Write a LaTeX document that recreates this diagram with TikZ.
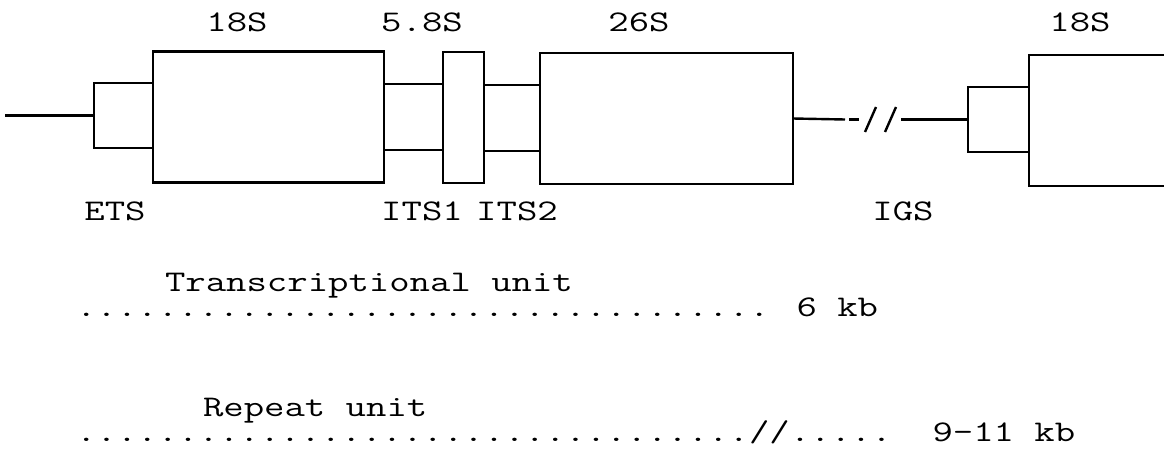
\documentclass[tikz,border=0pt]{standalone}
\usepackage{fontspec}
\newfontfamily\tw[FakeStretch=1.32]{Latin Modern Mono}
\begin{document}
\begin{tikzpicture}[x=1pt,y=-1pt,
  box/.style={draw, line width=2.4pt, minimum width=#1, inner sep=0pt, outer sep=0pt},
  ln/.style={line width=2.4pt},
  lbl/.style={font=\tw\fontsize{30}{30}\selectfont, inner sep=0pt, outer sep=0pt}]
\useasboundingbox (0,0) rectangle (1164,458);
\clip (0,0) rectangle (1164,458);
% boxes
\node[box=59pt, minimum height=65pt] (ets) at (123.5,115.5) {};
\node[box=231pt, minimum height=131pt] (r18) at (268.5,117) {};
\node[box=41pt, minimum height=131pt] (r58) at (463.5,117.5) {};
\node[box=253pt, minimum height=131pt] (r26) at (666.5,118.5) {};
\node[box=61pt, minimum height=65pt] (ets2) at (998.5,119.5) {};
\node[box=200pt, minimum height=131pt] (r18b) at (1129,120.5) {};
% connectors
\coordinate (lstart) at (5,115.5);
\draw[ln] (lstart) -- (ets.west);
\coordinate (its1t) at (0,84);
\coordinate (its1b) at (0,150);
\coordinate (its2t) at (0,85);
\coordinate (its2b) at (0,151);
\draw[ln] (r18.east |- its1t) -- (r58.west |- its1t);
\draw[ln] (r18.east |- its1b) -- (r58.west |- its1b);
\draw[ln] (r58.east |- its2t) -- (r26.west |- its2t);
\draw[ln] (r58.east |- its2b) -- (r26.west |- its2b);
\coordinate (g1) at (845,119.5);
\coordinate (d1) at (849,119.5);
\coordinate (d2) at (859,119.5);
\coordinate (g2) at (901,119.5);
\draw[ln] (r26.east) -- (g1);
\draw[ln] (d1) -- (d2);
\draw[ln] (g2) -- (ets2.west);
\coordinate (s1a) at (865,132);
\coordinate (s1b) at (876,107);
\coordinate (s2a) at (885,132);
\coordinate (s2b) at (896,107);
\draw[ln] (s1a) -- (s1b);
\draw[ln] (s2a) -- (s2b);
% labels
\node[lbl, anchor=base] (l18) at (237,31) {18S};
\node[lbl, anchor=base] (l58) at (422,31) {5.8S};
\node[lbl, anchor=base] (l26) at (639,31) {26S};
\node[lbl, anchor=base] (l18b) at (1080,31) {18S};
\node[lbl, anchor=base] (lets) at (115,220) {ETS};
\node[lbl, anchor=base] (lits1) at (422,220) {ITS1};
\node[lbl, anchor=base] (lits2) at (517,220) {ITS2};
\node[lbl, anchor=base] (ligs) at (903,220) {IGS};
\node[lbl, anchor=base west] (ltu) at (165,291) {Transcriptional unit};
\node[lbl, anchor=base west] (row1) at (76,316) {.................................. 6 kb};
\node[lbl, anchor=base west] (lru) at (203,416) {Repeat unit};
\node[lbl, anchor=base west] (row2) at (76,441) {.................................//.....\ \ 9-11 kb};
\end{tikzpicture}
\end{document}
